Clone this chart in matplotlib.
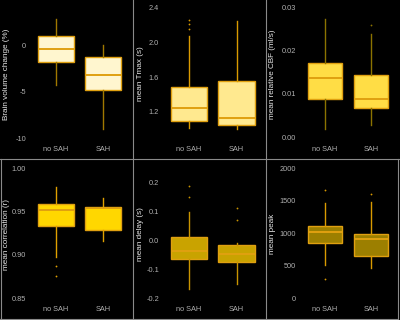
import matplotlib
matplotlib.use('Agg')
import matplotlib.pyplot as plt
from matplotlib.lines import Line2D

plt.rcParams['font.family'] = ['Liberation Sans', 'DejaVu Sans']

groups = ['no SAH', 'SAH']

# per panel: [no SAH, SAH] box statistics
labels = ['Brain volume change (%)', 'mean Tmax (s)', 'mean relative CBF (ml/s)',
          'mean correlation (r)', 'mean delay (s)', 'mean peak']
q1 = [[-1.76, -4.80], [1.092, 1.053], [0.00875, 0.00677],
      [0.9334, 0.9285], [-0.0623, -0.074], [846, 646]]
med = [[-0.36, -3.14], [1.242, 1.130], [0.01369, 0.00892],
       [0.9523, 0.9540], [-0.0346, -0.0464], [1015, 912]]
q3 = [[1.02, -1.22], [1.488, 1.554], [0.01707, 0.01439],
      [0.9589, 0.9551], [0.0114, -0.0138], [1112, 994]]
whislo = [[-4.22, -9.05], [1.012, 1.007], [0.00192, 0.0029],
          [0.898, 0.9166], [-0.168, -0.152], [515, 466]]
whishi = [[2.92, 0.08], [2.077, 2.253], [0.0273, 0.02393],
          [0.978, 0.9658], [0.0986, -0.008], [1460, 1475]]
fliers = [[[], []], [[2.257, 2.21, 2.154], []], [[], [0.02584]],
          [[0.8877, 0.8762], []], [[0.188, 0.151], [0.112, 0.070]], [[1666, 292], [1608]]]

yticks = [[-10, -5, 0], [1.2, 1.6, 2.0, 2.4], [0.00, 0.01, 0.02, 0.03],
          [0.85, 0.90, 0.95, 1.00], [-0.2, -0.1, 0.0, 0.1, 0.2], [0, 500, 1000, 1500, 2000]]
ytick_fmt = ['{:.0f}', '{:.1f}', '{:.2f}', '{:.2f}', '{:.1f}', '{:.0f}']
ylims = [(-10.53, 4.40), (0.842, 2.434), (-0.0013, 0.0305),
         (0.8446, 1.0038), (-0.216, 0.261), (-72, 2051)]

faces = ['#FFF6CF', '#FFE98F', '#FFDD45', '#FFD700', '#C9A300', '#9C7F00']
whisk = ['#A07800', '#D99A00', '#8B7300', '#E0A000', '#C89400', '#D99A00']
edge = '#E0A010'

W, H = 400, 320
col_left = [32.5, 165.25, 302]
col_w = [94, 95, 92]
row_top = [5, 165]
row_h = 138

fig = plt.figure(figsize=(4, 3.2), dpi=100, facecolor='black')

for i in range(6):
    r, c = divmod(i, 3)
    ax = fig.add_axes([col_left[c] / W, 1 - (row_top[r] + row_h) / H,
                       col_w[c] / W, row_h / H])
    ax.set_facecolor('black')
    stats = []
    for g in range(2):
        stats.append(dict(med=med[i][g], q1=q1[i][g], q3=q3[i][g],
                          whislo=whislo[i][g], whishi=whishi[i][g],
                          fliers=fliers[i][g], label=groups[g]))
    ax.bxp(stats, positions=[0, 1], widths=0.76, patch_artist=True, showcaps=False,
           boxprops=dict(facecolor=faces[i], edgecolor=edge, linewidth=1.0),
           medianprops=dict(color=edge, linewidth=1.4),
           whiskerprops=dict(color=whisk[i], linewidth=1.0),
           flierprops=dict(marker='o', markersize=1.3, markerfacecolor=whisk[i],
                           markeredgecolor='none'))
    ax.set_xlim(-0.5, 1.5)
    ax.set_ylim(*ylims[i])
    ax.set_yticks(yticks[i])
    ax.set_yticklabels([ytick_fmt[i].format(v) for v in yticks[i]])
    ax.set_xticks([0, 1])
    ax.set_xticklabels(groups)
    for s in ax.spines.values():
        s.set_visible(False)
    ax.tick_params(axis='both', length=0, colors='#B0B0B0', labelsize=5.3)
    ax.tick_params(axis='y', pad=4.5)
    ax.tick_params(axis='x', pad=2)
    ax.set_ylabel(labels[i], color='#E6E6E6', fontsize=5.9)
    xl = (133 * c + 10.5) / W
    yl = 1 - (row_top[r] + row_h / 2) / H
    ax.yaxis.set_label_coords(xl, yl, transform=fig.transFigure)

# panel separators
lc = '#8A8A8A'
for x in [133.3, 266.3]:
    fig.add_artist(Line2D([x / W, x / W], [0, 1], color=lc, lw=0.8, transform=fig.transFigure))
fig.add_artist(Line2D([0, 1], [1 - 159.3 / H, 1 - 159.3 / H], color=lc, lw=0.8, transform=fig.transFigure))
fig.add_artist(Line2D([0.6 / W, 0.6 / W], [1 - 318.5 / H, 1 - 159.3 / H], color=lc, lw=0.8, transform=fig.transFigure))
fig.add_artist(Line2D([398.4 / W, 398.4 / W], [1 - 318.5 / H, 1 - 159.3 / H], color=lc, lw=0.8, transform=fig.transFigure))
fig.add_artist(Line2D([0, 398.4 / W], [1 - 318.5 / H, 1 - 318.5 / H], color=lc, lw=0.8, transform=fig.transFigure))

fig.savefig('out.png', dpi=100, facecolor='black')
